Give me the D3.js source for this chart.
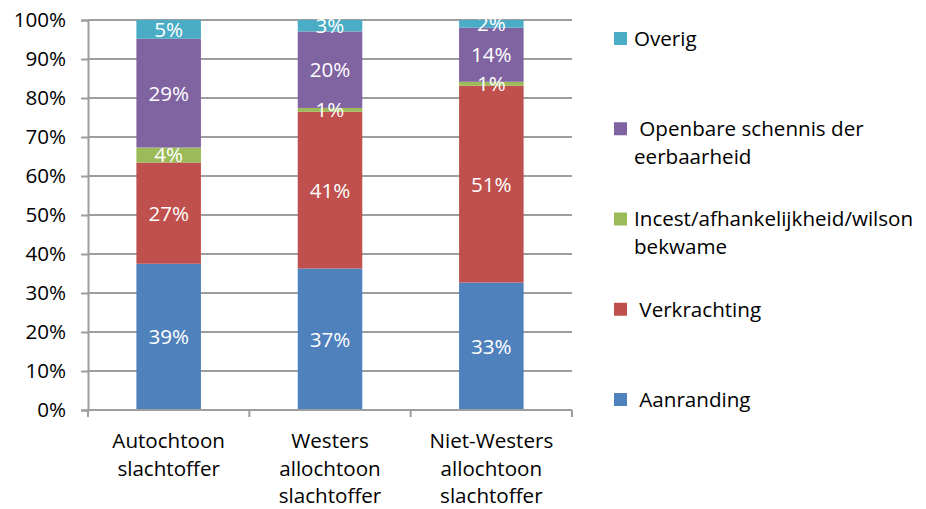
<!DOCTYPE html>
<meta charset="utf-8">
<script src="https://d3js.org/d3.v7.min.js"></script>
<style>
  body { margin: 0; background: #fff; }
  text { font-family: "Open Sans", sans-serif; font-size: 20.6px; fill: #000; }
</style>
<div id="chart"></div>
<script>
// categories (each split into the lines shown under the axis)
const categories = ["Autochtoon slachtoffer", "Westers allochtoon slachtoffer", "Niet-Westers allochtoon slachtoffer"];
const categoryLines = [["Autochtoon", "slachtoffer"], ["Westers", "allochtoon", "slachtoffer"], ["Niet-Westers", "allochtoon", "slachtoffer"]];

// series, bottom to top (percentages as labelled)
const seriesNames = ["Aanranding", "Verkrachting", "Incest", "Openbare", "Overig"];
const aanranding   = [39, 37, 33];
const verkrachting = [27, 41, 51];
const incest       = [4, 1, 1];
const openbare     = [29, 20, 14];
const overig       = [5, 3, 2];

const legendLabels = {
  Overig: ["Overig"],
  Openbare: [" Openbare schennis der", "eerbaarheid"],
  Incest: ["Incest/afhankelijkheid/wilson", "bekwame"],
  Verkrachting: [" Verkrachting"],
  Aanranding: [" Aanranding"]
};
const colors = ["#4f81bd", "#c0504d", "#9bbb59", "#8064a2", "#4bacc6"];
const yTicks = [0, 0.1, 0.2, 0.3, 0.4, 0.5, 0.6, 0.7, 0.8, 0.9, 1];

const seriesValues = [aanranding, verkrachting, incest, openbare, overig];
const table = categories.map((c, i) => {
  const row = { category: c };
  seriesNames.forEach((s, j) => row[s] = seriesValues[j][i]);
  return row;
});

const W = 926, H = 509;
const plot = { left: 88, right: 572, top: 20, bottom: 410 };

const svg = d3.select("#chart").append("svg")
  .attr("width", W).attr("height", H);

const x = d3.scaleBand().domain(categories).range([plot.left, plot.right]).paddingInner(0.6).paddingOuter(0.3);
const y = d3.scaleLinear().domain([0, 1]).range([plot.bottom, plot.top]);
const color = d3.scaleOrdinal().domain(seriesNames).range(colors);

// gridlines
svg.append("g").selectAll("line").data(yTicks).join("line")
  .attr("x1", plot.left).attr("x2", plot.right)
  .attr("y1", d => y(d)).attr("y2", d => y(d))
  .attr("stroke", "#9d9d9d").attr("stroke-width", 2);

// y axis
const yAxis = svg.append("g")
  .attr("transform", `translate(${plot.left},0)`)
  .call(d3.axisLeft(y).tickValues(yTicks).tickFormat(d3.format(".0%")).tickSize(7).tickPadding(15));
yAxis.select(".domain").attr("stroke", "#9d9d9d").attr("stroke-width", 2);
yAxis.selectAll(".tick line").attr("stroke", "#9d9d9d").attr("stroke-width", 2);
yAxis.selectAll("text").attr("font-family", null).attr("font-size", null).attr("fill", "#000");

// stacked bars
const stack = d3.stack().keys(seriesNames).offset(d3.stackOffsetExpand);
const layers = stack(table);

const layer = svg.append("g").selectAll("g").data(layers).join("g")
  .attr("fill", d => color(d.key));

layer.selectAll("rect").data(d => d).join("rect")
  .attr("x", d => x(d.data.category))
  .attr("width", x.bandwidth())
  .attr("y", d => y(d[1]))
  .attr("height", d => y(d[0]) - y(d[1]));

// value labels
svg.append("g").selectAll("g").data(layers).join("g")
  .each(function (s) {
    d3.select(this).selectAll("text").data(s).join("text")
      .attr("x", d => x(d.data.category) + x.bandwidth() / 2)
      .attr("y", d => (y(d[0]) + y(d[1])) / 2)
      .attr("dy", "0.36em")
      .attr("text-anchor", "middle")
      .style("fill", "#fff")
      .text(d => d.data[s.key] + "%");
  });

// x axis
const band = x.step();
const xAxis = svg.append("g");
xAxis.append("line")
  .attr("x1", plot.left).attr("x2", plot.right)
  .attr("y1", plot.bottom).attr("y2", plot.bottom)
  .attr("stroke", "#9d9d9d").attr("stroke-width", 2);
const boundaries = [plot.left].concat(categories.map(c => x(c) - x.paddingInner() * band / 2 + band));
xAxis.selectAll(".tickmark").data(boundaries).join("line")
  .attr("class", "tickmark")
  .attr("x1", d => d).attr("x2", d => d)
  .attr("y1", plot.bottom).attr("y2", plot.bottom + 7)
  .attr("stroke", "#9d9d9d").attr("stroke-width", 2);

xAxis.selectAll("text").data(categories).join("text")
  .attr("text-anchor", "middle")
  .attr("transform", d => `translate(${x(d) + x.bandwidth() / 2},${plot.bottom + 31})`)
  .each(function (d, i) {
    d3.select(this).selectAll("tspan").data(categoryLines[i]).join("tspan")
      .attr("x", 0).attr("y", (l, k) => k * 27.5)
      .attr("dy", "0.36em")
      .text(l => l);
  });

// legend
const legendOrder = seriesNames.slice().reverse();
const ly = d3.scalePoint().domain(legendOrder).range([38.5, 399.5]);
const legend = svg.append("g").selectAll("g").data(legendOrder).join("g")
  .attr("transform", d => `translate(614,${ly(d)})`);
legend.append("rect")
  .attr("x", 0).attr("y", -6.5).attr("width", 13).attr("height", 13)
  .attr("fill", d => color(d));
legend.append("text")
  .style("white-space", "pre")
  .each(function (d) {
    d3.select(this).selectAll("tspan").data(legendLabels[d]).join("tspan")
      .attr("x", 20).attr("y", (l, k) => k * 28)
      .attr("dy", "0.36em")
      .text(l => l);
  });
</script>
